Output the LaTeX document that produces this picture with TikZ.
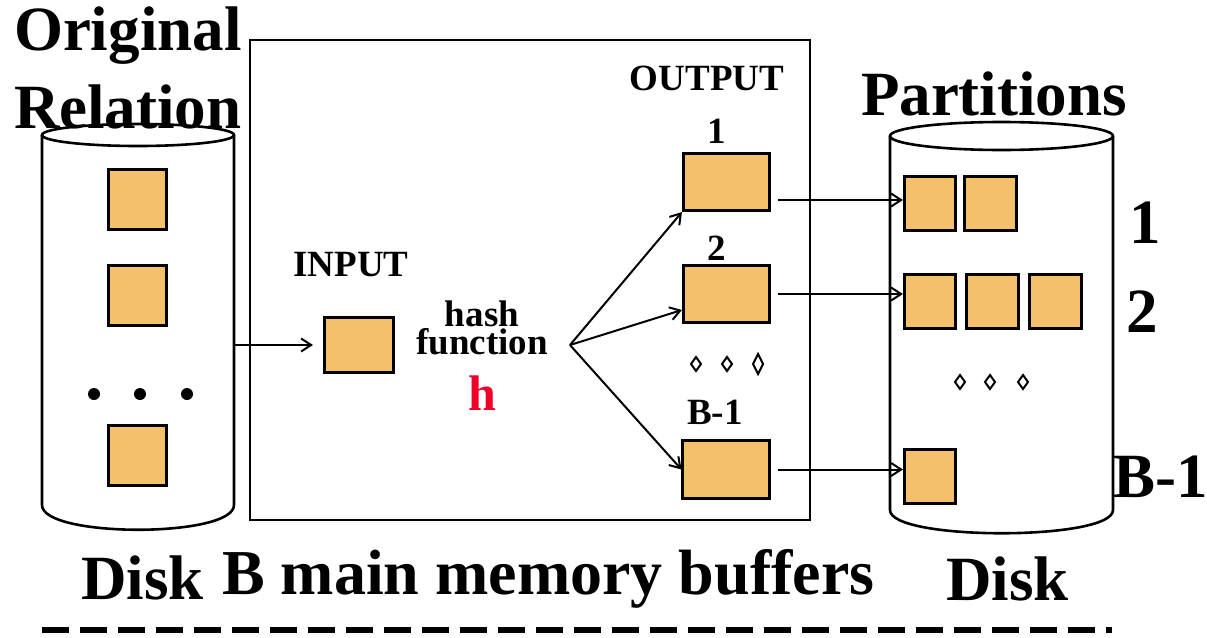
\documentclass[tikz,border=0pt]{standalone}
\usepackage{fontspec}
\setmainfont{Liberation Serif}
\usetikzlibrary{positioning, arrows.meta}
\definecolor{blockfill}{RGB}{244,192,108}
\definecolor{hashred}{RGB}{240,0,40}

\begin{document}
\begin{tikzpicture}[x=1pt, y=-1pt, line width=2pt,
    >={Straight Barb[length=10pt, width=13pt]},
    blk/.style={draw, fill=blockfill, line width=2.6pt, inner sep=0pt},
    page/.style={blk, minimum width=58.5pt, minimum height=60pt},
    part/.style={blk, minimum width=51.5pt, minimum height=54.5pt},
    buf/.style={blk, minimum width=86.5pt, minimum height=57.5pt},
    big/.style={font=\fontsize{63}{70}\selectfont\bfseries, inner sep=0pt},
    small/.style={font=\fontsize{37}{26}\selectfont\bfseries, inner sep=0pt},
    disk/.style={line width=2.6pt}]

   \useasboundingbox (0,0) rectangle (1207,637);

   % disks
   \draw[disk] (42,135) -- (42,505) .. controls (42,538) and (234,538) .. (234,505) -- (234,135);
   \draw[disk] (138,135) ellipse [x radius=96, y radius=11];
   \draw[disk] (890,136) -- (890,510) .. controls (890,541) and (1113,541) .. (1113,510) -- (1113,136);
   \draw[disk] (1001.5,136) ellipse [x radius=111.5, y radius=14];

   % main memory
   \node[draw, line width=2.4pt, minimum width=560pt, minimum height=480pt] (mem) at (530,280) {};

   % original relation
   \node[page] (r1) at (137.5,199.5) {};
   \node[page] (r2) at (137.5,295.5) {};
   \node[page] (r3) at (137.5,455.5) {};
   \foreach \dx in {94,140,187}
      \fill (\dx,394) circle[radius=6pt];

   % buffers
   \node[blk, minimum width=69.5pt, minimum height=55.5pt] (in) at (359,345) {};
   \node[buf] (out1) at (726.5,182) {};
   \node[buf] (out2) at (726.5,294) {};
   \node[buf] (out3) at (726,469.5) {};

   \node[small, anchor=base] (inlab) at (351,276) {INPUT};
   \node[small, anchor=base] (outlab) at (707,90) {OUTPUT};
   \node[small, above=7pt of out1, xshift=-10pt] (n1) {1};
   \node[small, above=2pt of out2, xshift=-10pt] (n2) {2};
   \node[small, above=14pt of out3, xshift=-11pt] (nb) {B-1};
   \foreach \dx/\h in {696/7, 727/7, 758/10}
      \draw (\dx,{364-\h}) -- (\dx+5,364) -- (\dx,{364+\h}) -- (\dx-5,364) -- cycle;

   \node[small, align=center, anchor=north] (hash) at (482,300) {hash\\function};
   \node[font=\fontsize{50}{50}\selectfont\bfseries, text=hashred, inner sep=0pt, anchor=base] (hfun) at (482,410) {h};

   % partitions
   \node[part] (p11) at (930,203.5) {};
   \node[part] (p12) at (990.5,203.5) {};
   \node[part] (p21) at (930,301.5) {};
   \node[part] (p22) at (992.5,301.5) {};
   \node[part] (p23) at (1055.5,301.5) {};
   \node[part] (p31) at (930,476.5) {};
   \foreach \dx in {960,990,1023}
      \draw (\dx,375) -- (\dx+5,382) -- (\dx,389) -- (\dx-5,382) -- cycle;

   % arrows
   \coordinate (relout) at (234,345);
   \coordinate (fan) at (570,345);
   \draw[->, shorten >=10pt] (relout) -- (in.west);
   \draw[->] (fan) -- (out1.south west);
   \draw[->] (fan) -- ([yshift=-16pt]out2.west);
   \draw[->] (fan) -- (out3.west);
   \draw[->, shorten <=7pt] ([yshift=-18pt]out1.east) -- ([yshift=-18pt]out1.east -| p11.west);
   \draw[->, shorten <=7pt] (out2.east) -- (out2.east -| p21.west);
   \draw[->, shorten <=7pt] (out3.east) -- (out3.east -| p31.west);

   % labels
   \node[big, anchor=base west] (orig) at (13,50) {Original};
   \node[big, anchor=base west] (rel) at (13,128) {Relation};
   \node[big, anchor=base west] (parts) at (860,115) {Partitions};
   \node[big, anchor=base] (lab1) at (1145,243) {1};
   \node[big, anchor=base] (lab2) at (1142,332) {2};
   \node[big, anchor=base west] (labb) at (1112,497) {B-1};
   \node[big, anchor=base west] (diskl) at (80,599) {Disk};
   \node[big, font=\fontsize{64}{70}\selectfont\bfseries, anchor=base west] (bufs) at (221,594) {B main memory buffers};
   \node[big, anchor=base west] (diskr) at (945,600) {Disk};

   \draw[line width=6pt, dash pattern=on 27pt off 11pt] (42,630) -- (1112,630);

\end{tikzpicture}
\end{document}
